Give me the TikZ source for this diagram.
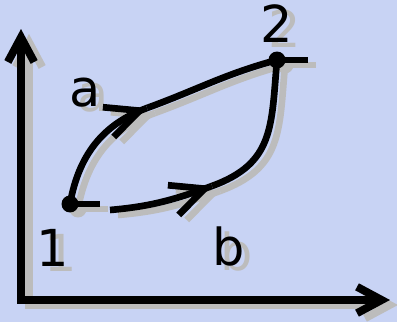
\documentclass[tikz,border=0pt]{standalone}
\usepackage{fontspec}
\setmainfont{DejaVu Sans}
\usepackage{xcolor}
\usetikzlibrary{arrows.meta,decorations.markings}

\definecolor{bgblue}{RGB}{200,211,244}
\definecolor{shadowgray}{RGB}{188,188,188}

\tikzset{
  axisline/.style={line width=4.5pt, line join=miter,
    {Straight Barb[length=14pt,width=15pt]}-{Straight Barb[length=14pt,width=15pt]}},
  pathline/.style={line width=3.8pt},
  headed/.style={pathline, postaction={decorate},
    decoration={markings, mark=at position 1 with {\arrow{Straight Barb[length=19pt,width=18pt]}}}},
  statedot/.style={circle, fill, inner sep=0pt, minimum size=0.34cm},
  lbl/.style={font=\fontsize{29}{29}\selectfont, inner sep=0pt}
}

% the whole sketch, drawn once as shadow and once in black
\newcommand{\drawsketch}{%
  % Axes
  \coordinate (O) at (21,22);
  \coordinate (ytip) at (21,293);
  \coordinate (xtip) at (390,22);
  \draw[axisline] (ytip) -- (O) -- (xtip);
  % States
  \node[statedot] (p1) at (70,118) {};
  \node[statedot] (p2) at (277,262) {};
  \coordinate (t1) at (100,118);
  \coordinate (t2) at (308,262);
  \coordinate (bs) at (110,112);
  \coordinate (ma) at (147,214);
  \coordinate (mb) at (212,136);
  % Labels
  \node[lbl] (l1) at (53,74) {1};
  \node[lbl] (l2) at (277,298) {2};
  \node[lbl] (la) at (85,229) {a};
  \node[lbl] (lb) at (229,75) {b};
  % Paths
  \draw[pathline] (p1.center) -- (t1);
  \draw[pathline] (p2.center) -- (t2);
  \draw[headed] (p1.center) to[out=80,in=200] (ma);
  \draw[pathline] (ma) to[out=20,in=195] (p2.center);
  \draw[headed] (bs) to[out=5,in=200] (mb);
  \draw[pathline] (mb) to[out=20,in=-95,looseness=1.2] (p2.center);
}

\begin{document}
\begin{tikzpicture}[x=0.02cm, y=0.02cm]
    \useasboundingbox (0,0) rectangle (397,322);
    \fill[bgblue] (0,0) rectangle (397,322);
    % Shadow
    \begin{scope}[shift={(8,-5)}, color=shadowgray]
        \drawsketch
    \end{scope}
    % Sketch
    \drawsketch
\end{tikzpicture}
\end{document}
